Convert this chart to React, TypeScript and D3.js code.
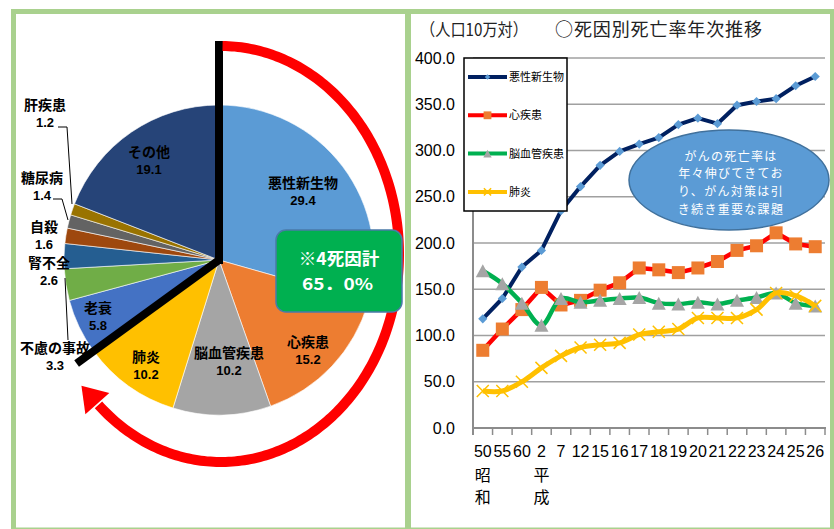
import React from "react";
import * as d3 from "d3";

// ---------- Pie data ----------
const pieLabels = ["悪性新生物", "心疾患", "脳血管疾患", "肺炎", "老衰", "不慮の事故", "腎不全", "自殺", "糖尿病", "肝疾患", "その他"];
const pieValues = [29.4, 15.2, 10.2, 10.2, 5.8, 3.3, 2.6, 1.6, 1.4, 1.2, 19.1];
const pieColors = ["#5b9bd5", "#ed7d31", "#a5a5a5", "#ffc000", "#4472c4", "#70ad47", "#255e91", "#9e480e", "#636363", "#997300", "#264478"];
// label placement (annotation layout): [x, name baseline]
const pieLabelPos: [number, number][] = [
  [303, 188], [308, 347], [229, 358], [146, 362], [98, 313], [55, 353], [49, 268], [44, 232], [42, 183], [45, 110], [149, 157],
];
const topCount = 4; // 4 main causes

// ---------- Line chart data ----------
const years = ["50", "55", "60", "2", "7", "12", "15", "16", "17", "18", "19", "20", "21", "22", "23", "24", "25", "26"];
const cancer = [118, 140, 174, 192, 235, 261, 284, 299, 307, 314, 328, 335, 329, 349, 353, 356, 370, 380];
const heart = [84, 107, 128, 152, 133, 138, 149, 157, 173, 171, 168, 173, 180, 192, 197, 211, 199, 196];
const cerebro = [170, 156, 135, 111, 140, 136, 138, 140, 141, 135, 134, 136, 134, 138, 141, 146, 135, 132];
const pneumonia = [40, 40, 50, 65, 78, 87, 90, 92, 101, 104, 107, 119, 119, 119, 128, 146, 143, 132];
const seriesNames = ["悪性新生物", "心疾患", "脳血管疾患", "肺炎"];
const yTicks = [0, 50, 100, 150, 200, 250, 300, 350, 400];
const eraLabels: Record<string, string[]> = { "50": ["昭", "和"], "2": ["平", "成"] };
const calloutLines = ["がんの死亡率は", "年々伸びてきてお", "り、がん対策は引", "き続き重要な課題"];

const FF = "'Noto Sans CJK JP', 'Noto Sans', sans-serif";
const NUM = "'Liberation Sans', Arial, sans-serif";
const FRAME = "#a9d18e";

function Marker({ type, x, y, s = 1 }: { type: string; x: number; y: number; s?: number }) {
  if (type === "diamond") {
    const h = 4.6 * s;
    return <path d={`M${x},${y - h}L${x + h},${y}L${x},${y + h}L${x - h},${y}Z`} fill="#5b9bd5" />;
  }
  if (type === "square") {
    const h = 6.5 * s;
    return <rect x={x - h} y={y - h} width={2 * h} height={2 * h} fill="#ed7d31" />;
  }
  if (type === "triangle") {
    const w = 7 * s;
    const h = 6.5 * s;
    return <path d={`M${x},${y - h}L${x + w},${y + h}L${x - w},${y + h}Z`} fill="#a5a5a5" />;
  }
  const h = 6 * s;
  return (
    <path d={`M${x - h},${y - h}L${x + h},${y + h}M${x + h},${y - h}L${x - h},${y + h}`} stroke="#ffc000" strokeWidth={1.5} fill="none" />
  );
}

export default function App() {
  // ---------- pie geometry ----------
  const cx = 219, cy = 260, r = 155;
  const arcs = d3.pie<number>().sort(null).value((d) => d)(pieValues);
  const arcGen = d3.arc<d3.PieArcDatum<number>>().innerRadius(0).outerRadius(r);
  const splitAngle = arcs[topCount - 1].endAngle;
  const pt = (a: number, L: number) => [cx + L * Math.sin(a), cy - L * Math.cos(a)];
  const vEnd = pt(0, 219);
  const dEnd = pt(splitAngle, 176);
  const topSum = d3.sum(pieValues.slice(0, topCount));
  const topText = `${Math.floor(topSum)}．${topSum.toFixed(1).split(".")[1]}%`;

  // red elliptical arrow
  const ecx = 221, ecy = 254, erx = 178, ery = 208;
  const thEnd = (224 * Math.PI) / 180;
  const ePts: [number, number][] = d3.range(0.5, 224.01, 1).map((deg) => {
    const t = (deg * Math.PI) / 180;
    return [ecx + erx * Math.sin(t), ecy - ery * Math.cos(t)];
  });
  const redPath = d3.line()(ePts) || "";
  const base = [ecx + erx * Math.sin(thEnd), ecy - ery * Math.cos(thEnd)];
  const tx = erx * Math.cos(thEnd), ty = ery * Math.sin(thEnd);
  const tl = Math.hypot(tx, ty);
  const ux = tx / tl, uy = ty / tl;
  const tip = [base[0] + ux * 24, base[1] + uy * 24];
  const w1 = [base[0] - uy * 16, base[1] + ux * 16];
  const w2 = [base[0] + uy * 16, base[1] - ux * 16];

  // ---------- line chart ----------
  const x = d3.scaleBand<string>().domain(years).range([473, 825]);
  const xc = (d: string) => (x(d) as number) + x.bandwidth() / 2;
  const y = d3.scaleLinear().domain([0, 400]).range([428, 58]);
  const linear = d3.line<number>().x((_, i) => xc(years[i])).y((v) => y(v));
  const smooth = d3.line<number>().x((_, i) => xc(years[i])).y((v) => y(v)).curve(d3.curveCatmullRom.alpha(0.5));

  const series = [
    { name: seriesNames[0], data: cancer, color: "#002060", width: 4, marker: "diamond", gen: linear },
    { name: seriesNames[1], data: heart, color: "#ff0000", width: 4.5, marker: "square", gen: linear },
    { name: seriesNames[2], data: cerebro, color: "#00b050", width: 4.5, marker: "triangle", gen: smooth },
    { name: seriesNames[3], data: pneumonia, color: "#ffc000", width: 5, marker: "cross", gen: smooth },
  ];

  return (
    <svg width={834} height={529} style={{ position: "absolute", left: 0, top: 0, background: "#fff" }} fontFamily={FF}>
      {/* ---------- pie ---------- */}
      <g transform={`translate(${cx},${cy})`}>
        {arcs.map((a, i) => (
          <path key={i} d={arcGen(a) || ""} fill={pieColors[i]} stroke="#fff" strokeWidth={0.6} />
        ))}
      </g>
      {/* leader lines */}
      <polyline points="58,127 67,127 72,204" fill="none" stroke="#000" strokeWidth={1} />
      <polyline points="53,199 62,199 68,220" fill="none" stroke="#000" strokeWidth={1} />
      <polyline points="65,278 68,340" fill="none" stroke="#000" strokeWidth={1} />
      {pieLabels.map((lab, i) => (
        <g key={lab} fontWeight="bold" textAnchor="middle" fill="#000">
          <text x={pieLabelPos[i][0]} y={pieLabelPos[i][1]} fontSize={14}>{lab}</text>
          <text x={pieLabelPos[i][0]} y={pieLabelPos[i][1] + 17} fontSize={13} fontFamily={NUM}>
            {pieValues[i].toFixed(1)}
          </text>
        </g>
      ))}
      <line x1={cx} y1={cy + 4} x2={vEnd[0]} y2={vEnd[1]} stroke="#000" strokeWidth={8} />
      <line x1={cx} y1={cy} x2={dEnd[0]} y2={dEnd[1]} stroke="#000" strokeWidth={8} />
      <path d={redPath} fill="none" stroke="#ff0000" strokeWidth={10} />
      <path d={`M${tip[0]},${tip[1]}L${w1[0]},${w1[1]}L${w2[0]},${w2[1]}Z`} fill="#ff0000" />
      <rect x={276} y={230} width={126} height={82} rx={10} fill="#00b050" stroke="#4a7aa8" strokeWidth={1.5} />
      <text x={339} y={265} textAnchor="middle" fill="#fff" fontWeight="bold" fontSize={17.5}>※4死因計</text>
      <text x={302} y={289.5} fill="#fff" fontWeight="bold" fontSize={16} textLength={71} lengthAdjust="spacingAndGlyphs">
        {topText}
      </text>

      {/* ---------- line chart ---------- */}
      <text x={420} y={36} fontSize={17} fill="#222" textLength={108} lengthAdjust="spacingAndGlyphs">（人口10万対）</text>
      <text x={555} y={36} fontSize={18} fill="#222" textLength={207} lengthAdjust="spacing">○死因別死亡率年次推移</text>
      {yTicks.map((t) => (
        <g key={t}>
          {t > 0 && <line x1={473} x2={825} y1={y(t)} y2={y(t)} stroke="#a0a0a0" strokeWidth={1.5} />}
          <text x={455} y={y(t) + 5.5} textAnchor="end" fontSize={16} fontFamily={NUM} fill="#000">
            {t.toFixed(1)}
          </text>
        </g>
      ))}
      <line x1={473} x2={473} y1={y(400)} y2={435} stroke="#8c8c8c" strokeWidth={2} />
      <line x1={472} x2={826} y1={y(0)} y2={y(0)} stroke="#8c8c8c" strokeWidth={2} />
      {d3.range(years.length + 1).map((i) => {
        const xx = 473 + i * x.step();
        return <line key={i} x1={xx} x2={xx} y1={y(0)} y2={435} stroke="#8c8c8c" strokeWidth={1.5} />;
      })}
      {years.map((yr) => (
        <g key={yr} textAnchor="middle" fontSize={16} fill="#000">
          <text x={xc(yr)} y={457} fontFamily={NUM}>{yr}</text>
          {eraLabels[yr] && (
            <>
              <text x={xc(yr)} y={481}>{eraLabels[yr][0]}</text>
              <text x={xc(yr)} y={503}>{eraLabels[yr][1]}</text>
            </>
          )}
        </g>
      ))}
      {series.map((s) => (
        <g key={s.name}>
          <path d={s.gen(s.data) || ""} fill="none" stroke={s.color} strokeWidth={s.width} strokeLinejoin="round" />
          {s.data.map((v, i) => (
            <Marker key={i} type={s.marker} x={xc(years[i])} y={y(v)} />
          ))}
        </g>
      ))}
      {/* legend */}
      <rect x={464} y={58} width={103} height={153} fill="#fff" stroke="#000" strokeWidth={1.5} />
      {series.map((s, i) => {
        const ly = 77 + i * 38.3;
        return (
          <g key={s.name}>
            <line x1={468} x2={507} y1={ly} y2={ly} stroke={s.color} strokeWidth={4} />
            <Marker type={s.marker} x={487.5} y={ly} s={0.6} />
            <text x={509} y={ly + 4} fontSize={11} fill="#000">{s.name}</text>
          </g>
        );
      })}
      {/* callout */}
      <ellipse cx={729} cy={180} rx={100} ry={50} fill="#5b9bd5" stroke="#41719c" strokeWidth={1.5} />
      {calloutLines.map((l, i) => (
        <text key={i} x={731} y={160.5 + i * 17.7} textAnchor="middle" fontSize={12} letterSpacing={1.3} fill="#fff">{l}</text>
      ))}

      {/* frame */}
      <rect x={11} y={9} width={823} height={5} fill={FRAME} />
      <rect x={11} y={9} width={5} height={520} fill={FRAME} />
      <rect x={405} y={9} width={6} height={520} fill={FRAME} />
      <rect x={830} y={9} width={4} height={520} fill={FRAME} />
      <rect x={11} y={527.5} width={823} height={1.5} fill={FRAME} />
    </svg>
  );
}
